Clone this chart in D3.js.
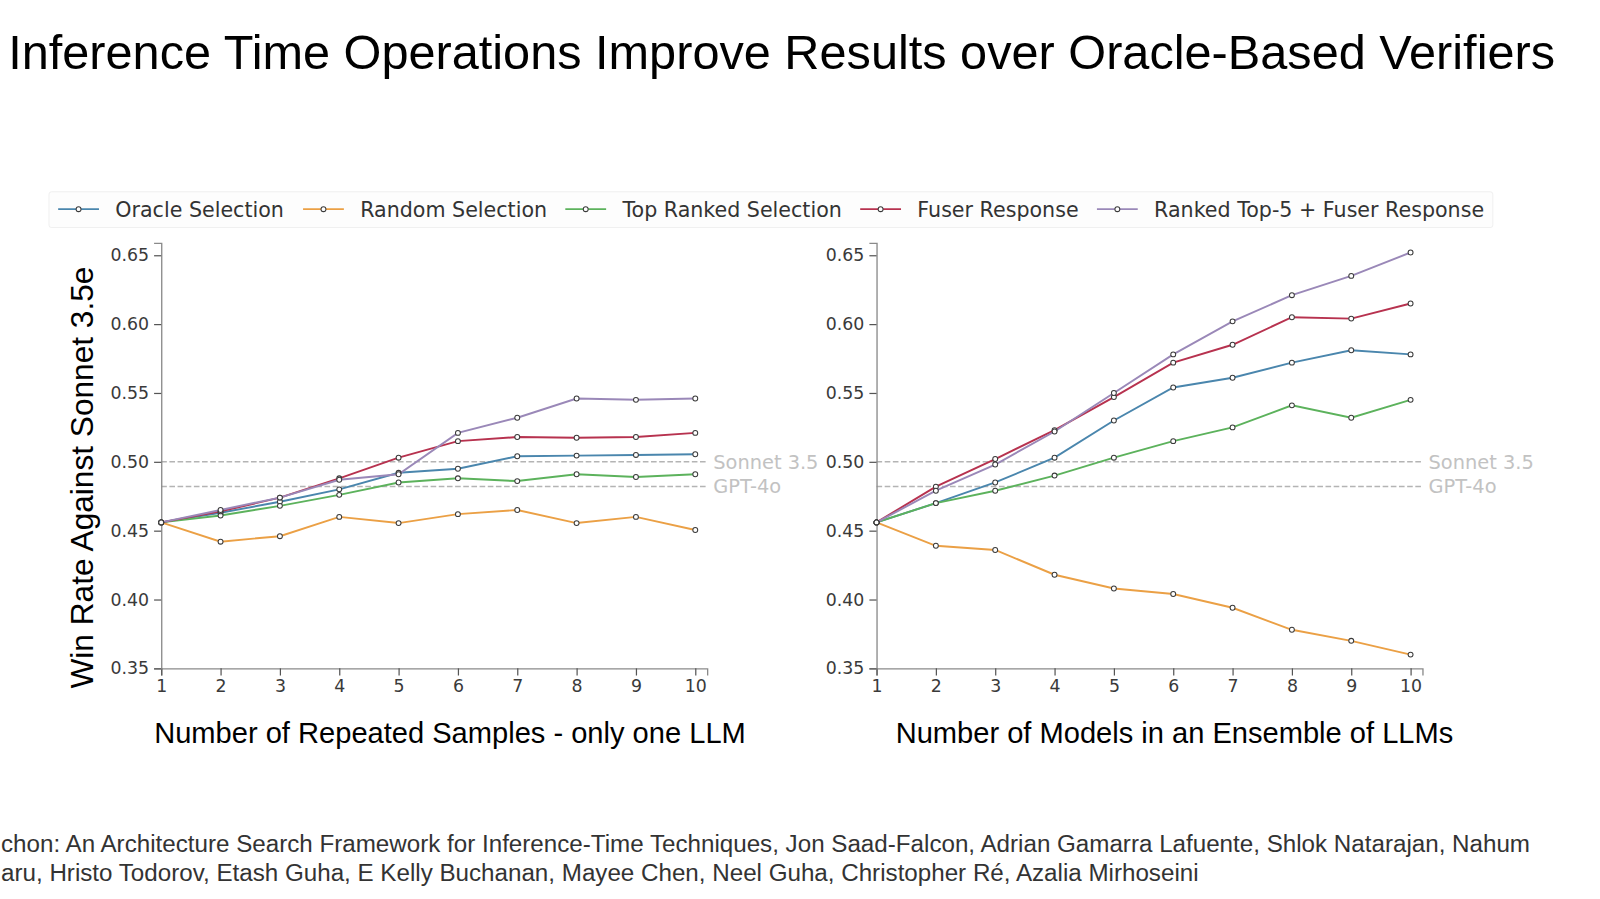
<!DOCTYPE html>
<html>
<head>
<meta charset="utf-8">
<script src="https://cdn.jsdelivr.net/npm/d3@7"></script>
<style>
  body { margin: 0; background: #fff; }
  svg { display: block; }
</style>
</head>
<body>
<div id="chart"></div>
<script>
// x values shared by both panels
var steps = [1, 2, 3, 4, 5, 6, 7, 8, 9, 10];
var yTicks = [0.35, 0.40, 0.45, 0.50, 0.55, 0.60, 0.65];

var seriesNames = ["Oracle Selection", "Random Selection", "Top Ranked Selection", "Fuser Response", "Ranked Top-5 + Fuser Response"];
var seriesColors = ["#4a86ad", "#eba045", "#5cb25c", "#b7324f", "#9a88b8"];

// left panel: repeated samples, one LLM
var samplesOracle = [0.456, 0.463, 0.471, 0.480, 0.492, 0.495, 0.504, 0.5045, 0.505, 0.5055];
var samplesRandom = [0.456, 0.442, 0.446, 0.460, 0.4555, 0.462, 0.465, 0.4555, 0.460, 0.4505];
var samplesTopRanked = [0.456, 0.461, 0.468, 0.476, 0.485, 0.488, 0.486, 0.491, 0.489, 0.491];
var samplesFuser = [0.456, 0.464, 0.474, 0.488, 0.503, 0.515, 0.518, 0.5175, 0.518, 0.521];
var samplesTop5Fuser = [0.456, 0.465, 0.474, 0.487, 0.491, 0.521, 0.532, 0.546, 0.545, 0.546];

// right panel: ensemble of models
var ensembleOracle = [0.456, 0.470, 0.485, 0.503, 0.530, 0.554, 0.561, 0.572, 0.581, 0.578];
var ensembleRandom = [0.456, 0.439, 0.436, 0.418, 0.408, 0.404, 0.394, 0.378, 0.370, 0.360];
var ensembleTopRanked = [0.456, 0.470, 0.479, 0.490, 0.503, 0.515, 0.525, 0.541, 0.532, 0.545];
var ensembleFuser = [0.456, 0.482, 0.502, 0.523, 0.547, 0.572, 0.585, 0.605, 0.604, 0.615];
var ensembleTop5Fuser = [0.456, 0.479, 0.498, 0.522, 0.550, 0.578, 0.602, 0.621, 0.635, 0.652];

var refNames = ["Sonnet 3.5", "GPT-4o"];
var refValues = [0.500, 0.482];

var panels = [
  { label: "Number of Repeated Samples - only one LLM", labelX: 441, left: 158, right: 693,
    series: [samplesOracle, samplesRandom, samplesTopRanked, samplesFuser, samplesTop5Fuser] },
  { label: "Number of Models in an Ensemble of LLMs", labelX: 1151, left: 859, right: 1394,
    series: [ensembleOracle, ensembleRandom, ensembleTopRanked, ensembleFuser, ensembleTop5Fuser] }
];

var W = 1600, H = 899;
// layout was measured on a 1568-wide copy of the slide
var k = W / 1568;
var plotTop = 238, plotBottom = 655;
var tickFont = "'DejaVu Sans', sans-serif";
var textFont = "'Liberation Sans', Arial, sans-serif";

var svg = d3.select("#chart").append("svg")
  .attr("width", W)
  .attr("height", H)
  .append("g")
  .attr("transform", "scale(" + k + ")");

// title
svg.append("text")
  .attr("x", 766)
  .attr("y", 68)
  .attr("text-anchor", "middle")
  .attr("font-family", textFont)
  .attr("font-size", 47.7)
  .attr("fill", "#000")
  .text("Inference Time Operations Improve Results over Oracle-Based Verifiers");

var y = d3.scaleLinear()
  .domain([0.35, 0.659])
  .range([plotBottom, plotTop]);

panels.forEach(function (p) {
  var x = d3.scaleLinear()
    .domain([1, 10.2])
    .range([p.left, p.right]);

  var g = svg.append("g");

  // reference lines
  refValues.forEach(function (v, i) {
    g.append("line")
      .attr("x1", x(1)).attr("x2", x(10.2))
      .attr("y1", y(v)).attr("y2", y(v))
      .attr("stroke", "#b4b4b4")
      .attr("stroke-width", 1.5)
      .attr("stroke-dasharray", "5.5,2.5");
    g.append("text")
      .attr("x", x(10.2) + 6)
      .attr("y", y(v))
      .attr("dy", "0.35em")
      .attr("font-family", tickFont)
      .attr("font-size", 19)
      .attr("fill", "#c2c2c2")
      .text(refNames[i]);
  });

  // axes
  var xAxis = g.append("g")
    .attr("transform", "translate(0," + plotBottom + ")")
    .call(d3.axisBottom(x).tickValues(steps).tickFormat(d3.format("d")).tickSizeOuter(0).tickSize(7).tickPadding(4));
  var yAxis = g.append("g")
    .attr("transform", "translate(" + p.left + ",0)")
    .call(d3.axisLeft(y).tickValues(yTicks).tickFormat(d3.format(".2f")).tickSizeOuter(0).tickSize(7).tickPadding(5));

  [xAxis, yAxis].forEach(function (a) {
    a.select(".domain").attr("stroke", "#8a8a8a").attr("stroke-width", 1.3);
    a.selectAll(".tick line").attr("stroke", "#555").attr("stroke-width", 1.2);
    a.selectAll(".tick text")
      .attr("font-family", tickFont)
      .attr("font-size", 17)
      .attr("fill", "#3a3a3a");
  });

  // series lines, drawn bottom-up in legend order
  var line = d3.line()
    .x(function (d, i) { return x(steps[i]); })
    .y(function (d) { return y(d); });

  p.series.forEach(function (vals, s) {
    g.append("path")
      .datum(vals)
      .attr("fill", "none")
      .attr("stroke", seriesColors[s])
      .attr("stroke-width", 1.9)
      .attr("d", line);
  });
  p.series.forEach(function (vals, s) {
    g.selectAll(".pt" + s)
      .data(vals)
      .join("circle")
      .attr("cx", function (d, i) { return x(steps[i]); })
      .attr("cy", function (d) { return y(d); })
      .attr("r", 2.4)
      .attr("fill", "#fff")
      .attr("stroke", "#3a3a3a")
      .attr("stroke-width", 1);
  });

  // x label
  svg.append("text")
    .attr("x", p.labelX)
    .attr("y", 728)
    .attr("text-anchor", "middle")
    .attr("font-family", textFont)
    .attr("font-size", 28.5)
    .attr("fill", "#000")
    .text(p.label);
});

// y label
svg.append("text")
  .attr("transform", "translate(91,468) rotate(-90)")
  .attr("text-anchor", "middle")
  .attr("font-family", textFont)
  .attr("font-size", 31)
  .attr("fill", "#000")
  .text("Win Rate Against Sonnet 3.5e");

// legend
var legend = svg.append("g");
legend.append("rect")
  .attr("x", 48).attr("y", 188)
  .attr("width", 1415).attr("height", 35)
  .attr("rx", 3)
  .attr("fill", "#fdfdfd")
  .attr("stroke", "#f0f0f0");

var legendX = [57, 297, 554, 843, 1075];
seriesNames.forEach(function (name, s) {
  var lx = legendX[s];
  legend.append("line")
    .attr("x1", lx).attr("x2", lx + 40)
    .attr("y1", 205).attr("y2", 205)
    .attr("stroke", seriesColors[s])
    .attr("stroke-width", 1.8);
  legend.append("circle")
    .attr("cx", lx + 20).attr("cy", 205)
    .attr("r", 2.4)
    .attr("fill", "#fff")
    .attr("stroke", "#3a3a3a")
    .attr("stroke-width", 1);
  legend.append("text")
    .attr("x", lx + 56)
    .attr("y", 205)
    .attr("dy", "0.38em")
    .attr("font-family", tickFont)
    .attr("font-size", 20.2)
    .attr("fill", "#333")
    .text(name);
});

// source caption (cut off at the left edge in the slide)
var captionLines = [
  "chon: An Architecture Search Framework for Inference-Time Techniques, Jon Saad-Falcon, Adrian Gamarra Lafuente, Shlok Natarajan, Nahum",
  "aru, Hristo Todorov, Etash Guha, E Kelly Buchanan, Mayee Chen, Neel Guha, Christopher Ré, Azalia Mirhoseini"
];
svg.selectAll(".caption")
  .data(captionLines)
  .join("text")
  .attr("class", "caption")
  .attr("x", 1)
  .attr("y", function (d, i) { return 835 + i * 28; })
  .attr("font-family", textFont)
  .attr("font-size", 23.7)
  .attr("fill", "#333")
  .text(function (d) { return d; });
</script>
</body>
</html>
